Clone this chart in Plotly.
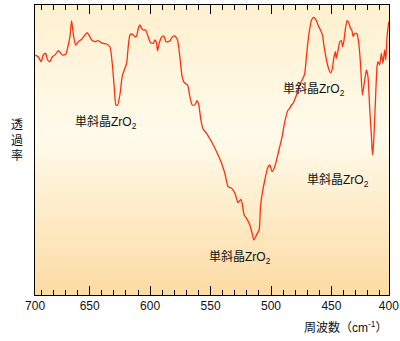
import plotly.graph_objects as go

# Wavenumber (cm^-1) and transmittance (arbitrary units)
wavenumber = [
    695.2, 692.5, 690.2, 688.3, 686.4, 684.7, 682.8, 680.9, 678.7, 676.0,
    674.5, 672.6, 669.8, 667.7, 666.3, 664.9, 663.6, 661.6, 659.4, 656.6,
    653.9, 652.0, 650.6, 648.3, 645.6, 642.9, 640.9, 638.8, 636.0, 633.2,
    631.3, 629.7, 628.3, 626.9, 625.0, 623.1, 621.4, 619.4, 618.1, 616.7,
    614.8, 612.6, 611.2, 609.8, 608.4, 607.0, 605.7, 603.7, 601.6, 599.6,
    597.4, 596.0, 594.6, 593.8, 592.5, 590.5, 588.6, 586.9, 585.0, 583.6,
    581.7, 579.5, 577.3, 575.4, 573.5, 571.8, 569.0, 567.1, 565.2, 563.0,
    561.1, 559.7, 558.0, 556.1, 553.3, 549.2, 545.0, 540.9, 538.2, 535.5,
    532.6, 529.9, 527.2, 525.0, 523.9, 522.2, 520.2, 517.5, 515.6, 514.2,
    512.0, 509.8, 508.7, 507.0, 505.1, 502.9, 501.0, 499.1, 496.9, 494.1,
    490.8, 488.6, 485.9, 484.5, 483.1, 481.7, 480.3, 478.9, 476.2, 473.5,
    472.1, 470.7, 469.3, 467.9, 466.5, 464.6, 463.0, 461.1, 459.1, 457.4,
    456.1, 454.1, 452.0, 450.6, 449.2, 448.1, 446.7, 445.9, 444.5, 443.1,
    441.7, 440.9, 439.8, 438.4, 437.1, 435.7, 434.3, 433.0, 432.1, 430.7,
    428.8, 427.4, 426.0, 424.4, 422.7, 421.1, 419.8, 418.3, 416.9, 416.1,
    415.0, 413.6, 412.3, 411.5, 410.1, 408.7, 407.4, 406.0, 405.1, 404.0,
    402.6,
]
transmittance = [
    240.0, 238.3, 233.3, 240.0, 241.7, 235.0, 233.3, 238.3, 240.0, 244.3,
    242.7, 240.0, 240.7, 250.0, 258.3, 274.3, 261.7, 250.0, 253.3, 255.7,
    260.0, 262.3, 260.0, 255.0, 253.3, 254.3, 252.7, 251.7, 251.0, 248.3,
    231.7, 208.3, 190.0, 190.0, 200.0, 218.3, 225.0, 231.7, 248.3, 260.0,
    261.0, 258.3, 259.0, 266.7, 270.0, 266.7, 265.0, 265.0, 258.3, 252.3,
    251.7, 255.0, 251.7, 244.3, 251.7, 257.7, 259.0, 253.3, 253.3, 254.3,
    257.7, 259.0, 255.0, 238.3, 218.3, 212.3, 210.0, 198.3, 190.0, 190.0,
    194.3, 190.0, 175.0, 165.7, 161.7, 153.3, 143.3, 131.7, 121.7, 108.3,
    106.7, 101.7, 92.3, 95.7, 91.7, 80.0, 76.7, 70.0, 61.7, 55.0,
    60.0, 65.0, 88.3, 103.3, 115.0, 126.7, 130.0, 123.3, 128.3, 141.7,
    158.3, 173.3, 185.0, 186.7, 190.0, 191.7, 195.7, 200.0, 210.0, 216.7,
    221.7, 238.3, 255.0, 266.7, 275.0, 277.7, 275.7, 270.0, 265.0, 260.0,
    248.3, 235.0, 225.0, 222.3, 226.7, 236.7, 243.3, 236.7, 245.0, 253.3,
    254.3, 248.3, 253.3, 266.7, 274.3, 272.3, 266.7, 264.3, 258.3, 261.7,
    261.0, 251.7, 231.7, 200.0, 213.3, 225.0, 218.3, 185.0, 158.3, 140.0,
    155.0, 195.0, 228.3, 233.3, 230.0, 241.7, 231.7, 245.0, 235.0, 258.3,
    273.3,
]

tick_vals = [695.1, 650, 600, 550, 500, 450, 402.5]
tick_text = ["700", "650", "600", "550", "500", "450", "400"]
minor_vals = [690, 680, 670, 660, 640, 630, 620, 610, 590, 580, 570, 560,
              540, 530, 520, 510, 490, 480, 470, 460, 440, 430, 420, 410]

label_text = "単斜晶ZrO<sub>2</sub>"
label_x = [636.5, 464.6, 444.4, 525.4]
label_y = [173, 206, 115, 38]

x_range = [695.2, 402.4]
y_range = [0, 290]

fig = go.Figure()

# background gradient (bottom peach -> light cream -> slightly peach top)
stops = [(0.0, (253, 219, 163)), (0.55, (255, 251, 235)), (1.0, (255, 240, 207))]
def col_at(t):
    for (t0, c0), (t1, c1) in zip(stops[:-1], stops[1:]):
        if t0 <= t <= t1:
            f = (t - t0) / (t1 - t0)
            return "rgb(%d,%d,%d)" % tuple(round(a + (b - a) * f) for a, b in zip(c0, c1))
    return "rgb(%d,%d,%d)" % stops[-1][1]

n = 60
for i in range(n):
    y0 = i / n
    y1 = (i + 1) / n + 0.002
    fig.add_shape(type="rect", xref="x domain", yref="y domain",
                  x0=0, x1=1, y0=y0, y1=min(y1, 1),
                  fillcolor=col_at((i + 0.5) / n), line_width=0, layer="below")

fig.add_trace(go.Scatter(
    x=wavenumber, y=transmittance, mode="lines",
    line=dict(color="#FF3010", width=1.3, shape="spline", smoothing=0.5),
    hoverinfo="skip", showlegend=False,
))

for lx, ly in zip(label_x, label_y):
    fig.add_annotation(x=lx, y=ly, xref="x", yref="y", text=label_text,
                       showarrow=False,
                       font=dict(family="Liberation Sans, Noto Sans CJK JP",
                                 size=12, color="#111"))

fig.add_annotation(x=-0.05, y=0.538, xref="paper", yref="paper", text="透<br>過<br>率",
                   showarrow=False, xanchor="center", yanchor="middle",
                   font=dict(family="Noto Sans CJK JP", size=12, color="#111"))

fig.add_annotation(x=0.878, y=-0.11, xref="paper", yref="paper",
                   text="周波数（cm<sup>-1</sup>）", showarrow=False,
                   xanchor="center", yanchor="middle",
                   font=dict(family="Liberation Sans, Noto Sans CJK JP", size=12, color="#111"))

fig.update_xaxes(range=x_range, tickmode="array", tickvals=tick_vals, ticktext=tick_text,
                 ticks="inside", ticklen=9, tickwidth=1, tickcolor="black",
                 showline=True, linecolor="black", linewidth=1, mirror="allticks",
                 showgrid=False, zeroline=False, automargin=False,
                 tickfont=dict(family="Liberation Sans", size=12, color="#111"),
                 minor=dict(tickmode="array", tickvals=minor_vals, ticks="inside",
                            ticklen=5, tickwidth=1, tickcolor="black", showgrid=False))
fig.update_yaxes(range=y_range, showticklabels=False, ticks="",
                 showline=True, linecolor="black", linewidth=1, mirror=True,
                 showgrid=False, zeroline=False, automargin=False)

fig.update_layout(width=400, height=341,
                  margin=dict(l=35, r=11, t=5, b=46),
                  paper_bgcolor="white", plot_bgcolor="rgb(255,246,224)")

fig.write_html("out.html", config={"displayModeBar": False},
               post_script="document.body.style.margin='0px';document.body.style.overflow='hidden';")
